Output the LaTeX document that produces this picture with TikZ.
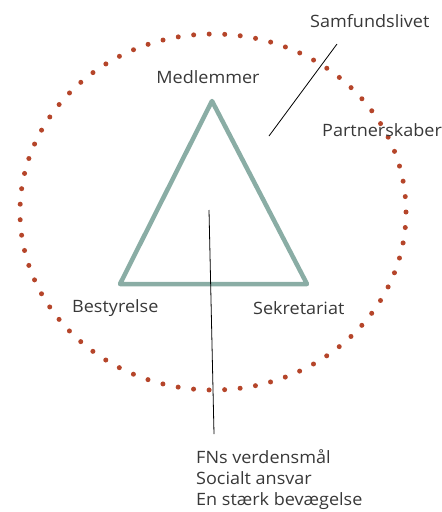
\documentclass[tikz,border=0pt]{standalone}
\usepackage{fontspec}
\setmainfont[FakeStretch=1.06]{Open Sans}
\usetikzlibrary{positioning}
\definecolor{ringred}{RGB}{181,69,42}
\definecolor{trigreen}{RGB}{138,173,165}

\begin{document}
\begin{tikzpicture}[
    x=1pt, y=-1pt,
    lbl/.style={inner sep=0pt, font=\fontsize{17}{21}\selectfont, text=black!78},
    ring/.style={ringred, line width=5pt, line cap=round,
                 dash pattern=on 0pt off 15.55pt},
    tri/.style={trigreen, line width=4.5pt, line join=round},
    pointer/.style={black, line width=0.8pt}
]
\useasboundingbox (0,0) rectangle (442,512);

% outer ring of dots
\draw[ring] (213,212) ellipse [x radius=193, y radius=178];

% triangle
\coordinate (top) at (212,101);
\coordinate (bl) at (120,284);
\coordinate (br) at (307,284);
\draw[tri] (top) -- (br) -- (bl) -- cycle;

% labels
\node[lbl] (medlemmer) at (208,77) {Medlemmer};
\node[lbl, anchor=west] (bestyrelse) at (72,308) {Bestyrelse};
\node[lbl, anchor=west] (sekretariat) at (253,308) {Sekretariat};
\node[lbl, anchor=west] (samfund) at (310,21) {Samfundslivet};
\node[lbl, anchor=west] (partner) at (322,130) {Partnerskaber};
\node[lbl, anchor=north west, align=left] (fn) at (196,449)
    {FNs verdensmål\\Socialt ansvar\\En stærk bevægelse};

% pointer lines
\coordinate (outerA) at (337,44);
\coordinate (outerB) at (269,136);
\coordinate (innerA) at (209,210);
\coordinate (innerB) at (214,434);
\draw[pointer] (outerA) -- (outerB);
\draw[pointer] (innerA) -- (innerB);
\end{tikzpicture}
\end{document}
